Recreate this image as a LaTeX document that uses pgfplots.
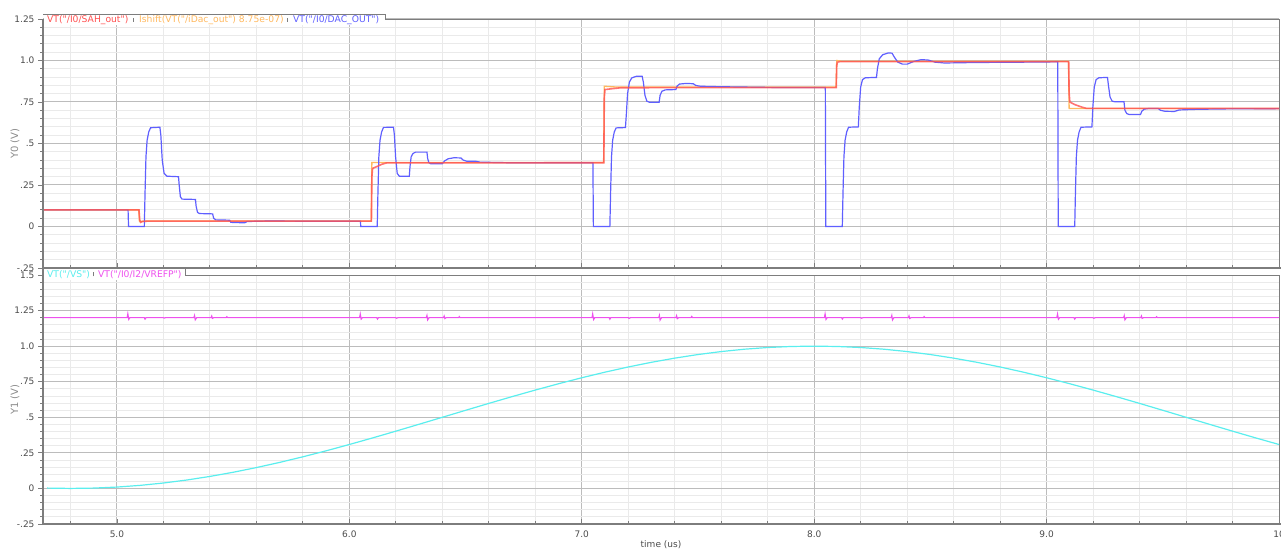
\documentclass[border=0pt]{standalone}
\usepackage{pgfplots}
\pgfplotsset{compat=1.18}
\usepackage{fontspec}
\setmainfont{DejaVu Sans}
\newcommand{\dq}{\XeTeXglyph\XeTeXcharglyph"22\relax}
\definecolor{cRed}{RGB}{255,80,80}
\definecolor{cOrange}{RGB}{255,185,95}
\definecolor{cBlue}{RGB}{95,95,255}
\definecolor{cCyan}{RGB}{90,238,238}
\definecolor{cMag}{RGB}{238,80,238}
\definecolor{gMajor}{RGB}{188,188,188}
\definecolor{gMinor}{RGB}{234,234,234}
\definecolor{axGray}{RGB}{125,125,125}
\definecolor{txtGray}{RGB}{75,75,75}
\definecolor{lblGray}{RGB}{140,140,140}
\pgfplotsset{
  wave/.style={
    scale only axis, width=1236pt, height=249pt,
    xmin=4.682, xmax=10.0,
    xtick={5,6,7,8,9,10},
    minor xtick={4.8,5.2,5.4,5.6,5.8,6.2,6.4,6.6,6.8,7.2,7.4,7.6,7.8,8.2,8.4,8.6,8.8,9.2,9.4,9.6,9.8},
    grid=both,
    major grid style={gMajor, line width=1pt},
    minor grid style={gMinor, line width=0.8pt},
    axis line style={axGray, line width=0.8pt},
    tick style={axGray, line width=0.8pt},
    major tick length=5pt, minor tick length=3pt,
    ytick align=outside, xtick align=inside,
    tick pos=left,
    ticklabel style={font=\fontsize{9}{10}\selectfont, text=txtGray},
    label style={font=\fontsize{10}{11}\selectfont, text=lblGray},
    ylabel style={at={(axis description cs:-0.0227,0.5)}, anchor=center},
  }
}
\begin{document}
\begin{tikzpicture}
\useasboundingbox (0,0) rectangle (1281pt,549pt);
% ---------- top pane ----------
\begin{axis}[wave, at={(43pt,281pt)}, anchor=south west,
  ymin=-0.25, ymax=1.25,
  ytick={-0.25,0,0.25,0.5,0.75,1.0,1.25},
  yticklabels={-.25,0,.25,.5,.75,1.0,1.25},
  minor ytick={-0.2,-0.15,-0.1,-0.05,0.05,0.1,0.15,0.2,0.3,0.35,0.4,0.45,0.55,0.6,0.65,0.7,0.8,0.85,0.9,0.95,1.05,1.1,1.15,1.2},
  xticklabels={},
  ylabel={Y0 (V)}]
% Ishift(VT("/iDac_out") 8.75e-07)
\addplot[cOrange, line width=1.3pt] coordinates {
(4.682,0.1) (5.094,0.1) (5.097,0.03) (5.12,0.033) (6.094,0.033) (6.097,0.386)
(7.094,0.386) (7.097,0.845) (7.15,0.84) (8.094,0.84) (8.097,1.0) (8.12,0.995)
(9.094,0.995) (9.097,0.711) (10.0,0.711)};
% VT("/I0/DAC_OUT")
\addplot[cBlue, line width=1.2pt] coordinates {
(4.682,0.1) (5.048,0.1) (5.050,0.0) (5.118,0.0) (5.121,0.2) (5.125,0.42) (5.13,0.52)
(5.137,0.57) (5.145,0.595) (5.185,0.598) (5.189,0.55) (5.195,0.40) (5.203,0.32)
(5.215,0.303) (5.265,0.30) (5.268,0.25) (5.273,0.18) (5.28,0.165) (5.338,0.163)
(5.341,0.12) (5.347,0.085) (5.355,0.078) (5.412,0.076) (5.416,0.05) (5.425,0.04)
(5.485,0.038) (5.49,0.025) (5.55,0.022) (5.56,0.03) (5.65,0.033) (5.8,0.032) (6.048,0.032)
(6.049,0.0) (6.120,0.0) (6.123,0.2) (6.127,0.42) (6.132,0.52) (6.139,0.57) (6.147,0.597)
(6.19,0.598) (6.194,0.55) (6.199,0.42) (6.206,0.32) (6.215,0.303) (6.258,0.303)
(6.261,0.36) (6.266,0.42) (6.274,0.44) (6.285,0.448) (6.334,0.448) (6.337,0.41)
(6.342,0.385) (6.35,0.378) (6.40,0.378) (6.41,0.395) (6.425,0.408) (6.45,0.414)
(6.48,0.413) (6.49,0.40) (6.505,0.393) (6.545,0.393) (6.56,0.388) (6.62,0.386)
(6.7,0.384) (7.048,0.384)
(7.05,0.0) (7.121,0.0) (7.124,0.2) (7.128,0.42) (7.133,0.52) (7.14,0.57) (7.148,0.594)
(7.188,0.596) (7.192,0.68) (7.197,0.80) (7.205,0.87) (7.215,0.895) (7.235,0.905)
(7.26,0.905) (7.265,0.87) (7.272,0.79) (7.28,0.755) (7.29,0.749) (7.333,0.749)
(7.337,0.79) (7.345,0.815) (7.36,0.823) (7.405,0.825) (7.41,0.845) (7.42,0.858)
(7.45,0.862) (7.48,0.86) (7.49,0.85) (7.51,0.845) (7.6,0.842) (7.8,0.838) (8.048,0.837)
(8.05,0.0) (8.121,0.0) (8.124,0.2) (8.128,0.42) (8.133,0.52) (8.14,0.57) (8.148,0.598)
(8.19,0.600) (8.194,0.72) (8.2,0.84) (8.208,0.885) (8.22,0.896) (8.268,0.898)
(8.272,0.95) (8.28,1.01) (8.295,1.035) (8.32,1.046) (8.335,1.044) (8.345,1.02)
(8.36,0.99) (8.38,0.978) (8.40,0.978) (8.43,0.995) (8.46,1.005) (8.49,1.003)
(8.52,0.99) (8.56,0.985) (8.7,0.988) (8.9,0.99) (9.048,0.992)
(9.05,0.0) (9.121,0.0) (9.124,0.2) (9.128,0.42) (9.133,0.52) (9.14,0.57) (9.148,0.598)
(9.195,0.600) (9.199,0.72) (9.205,0.84) (9.213,0.885) (9.225,0.896) (9.262,0.898)
(9.266,0.85) (9.273,0.78) (9.282,0.755) (9.295,0.751) (9.333,0.751) (9.337,0.70)
(9.345,0.68) (9.355,0.675) (9.404,0.675) (9.41,0.695) (9.42,0.707) (9.44,0.711)
(9.48,0.711) (9.49,0.70) (9.51,0.694) (9.55,0.693) (9.57,0.702) (9.65,0.706)
(9.8,0.709) (10.0,0.71)};
% VT("/I0/SAH_out")
\addplot[cRed, line width=1.6pt, opacity=0.8] coordinates {
(4.682,0.1) (5.095,0.1) (5.098,0.04) (5.102,0.025) (5.11,0.03) (5.13,0.032)
(6.095,0.032) (6.097,0.30) (6.10,0.35) (6.12,0.362) (6.14,0.375) (6.16,0.383)
(7.095,0.384) (7.097,0.78) (7.10,0.825) (7.13,0.830) (7.17,0.836)
(8.095,0.837) (8.097,0.97) (8.10,0.99) (8.11,0.993)
(9.095,0.993) (9.097,0.80) (9.10,0.75) (9.12,0.735) (9.15,0.72) (9.17,0.712) (10.0,0.711)};
\end{axis}
% ---------- bottom pane ----------
\begin{axis}[wave, at={(43pt,25pt)}, anchor=south west,
  ymin=-0.25, ymax=1.5,
  ytick={-0.25,0,0.25,0.5,0.75,1.0,1.25,1.5},
  yticklabels={-.25,0,.25,.5,.75,1.0,1.25,1.5},
  minor ytick={-0.2,-0.15,-0.1,-0.05,0.05,0.1,0.15,0.2,0.3,0.35,0.4,0.45,0.55,0.6,0.65,0.7,0.8,0.85,0.9,0.95,1.05,1.1,1.15,1.2,1.3,1.35,1.4,1.45},
  xticklabels={5.0,6.0,7.0,8.0,9.0,10},
  xticklabel style={yshift=-3pt},
  xlabel={time (us)},
  xlabel style={at={(axis description cs:0.5,0)}, anchor=center, yshift=-21pt, text=txtGray, font=\fontsize{9}{10}\selectfont},
  ylabel={Y1 (V)}]
% VT("/VS")
\addplot[cCyan, line width=1.2pt] coordinates {
(4.7,0.0024) (4.8,0.0) (4.9,0.0024) (5.0,0.0096) (5.1,0.0215) (5.2,0.0381) (5.3,0.0590)
(5.4,0.0843) (5.5,0.1135) (5.6,0.1465) (5.7,0.1828) (5.8,0.2222) (5.9,0.2643) (6.0,0.3087)
(6.1,0.3549) (6.2,0.4025) (6.3,0.4510) (6.4,0.5) (6.5,0.5490) (6.6,0.5976) (6.7,0.6451)
(6.8,0.6913) (6.9,0.7357) (7.0,0.7778) (7.1,0.8172) (7.2,0.8536) (7.3,0.8865) (7.4,0.9157)
(7.5,0.9410) (7.6,0.9619) (7.7,0.9785) (7.8,0.9904) (7.9,0.9976) (8.0,1.0) (8.1,0.9976)
(8.2,0.9904) (8.3,0.9785) (8.4,0.9619) (8.5,0.9410) (8.6,0.9157) (8.7,0.8865) (8.8,0.8536)
(8.9,0.8172) (9.0,0.7778) (9.1,0.7357) (9.2,0.6913) (9.3,0.6451) (9.4,0.5976) (9.5,0.5490)
(9.6,0.5) (9.7,0.4510) (9.8,0.4025) (9.9,0.3549) (10.0,0.3087)};
% VT("/I0/I2/VREFP")
\addplot[cMag, line width=1.1pt] coordinates {
(4.682,1.2)
(5.044,1.2) (5.047,1.228) (5.051,1.188) (5.056,1.2) (5.118,1.2) (5.121,1.19) (5.125,1.2)
(5.2,1.2) (5.203,1.197) (5.21,1.2) (5.331,1.2) (5.334,1.215) (5.337,1.185) (5.343,1.2)
(5.405,1.2) (5.408,1.212) (5.411,1.195) (5.417,1.2) (5.47,1.2) (5.473,1.207) (5.477,1.2)
(6.044,1.2) (6.047,1.226) (6.051,1.19) (6.056,1.2) (6.118,1.2) (6.121,1.19) (6.125,1.2)
(6.2,1.2) (6.203,1.196) (6.21,1.2) (6.331,1.2) (6.334,1.216) (6.337,1.184) (6.343,1.2)
(6.405,1.2) (6.408,1.212) (6.411,1.194) (6.417,1.2) (6.47,1.2) (6.473,1.208) (6.477,1.2)
(7.044,1.2) (7.047,1.227) (7.051,1.187) (7.056,1.2) (7.118,1.2) (7.121,1.189) (7.125,1.2)
(7.2,1.2) (7.203,1.195) (7.21,1.2) (7.331,1.2) (7.334,1.217) (7.337,1.183) (7.343,1.2)
(7.405,1.2) (7.408,1.214) (7.411,1.193) (7.417,1.2) (7.47,1.2) (7.473,1.209) (7.477,1.2)
(8.044,1.2) (8.047,1.227) (8.051,1.188) (8.056,1.2) (8.118,1.2) (8.121,1.19) (8.125,1.2)
(8.2,1.2) (8.203,1.196) (8.21,1.2) (8.331,1.2) (8.334,1.216) (8.337,1.184) (8.343,1.2)
(8.405,1.2) (8.408,1.213) (8.411,1.194) (8.417,1.2) (8.47,1.2) (8.473,1.208) (8.477,1.2)
(9.044,1.2) (9.047,1.226) (9.051,1.189) (9.056,1.2) (9.118,1.2) (9.121,1.19) (9.125,1.2)
(9.2,1.2) (9.203,1.196) (9.21,1.2) (9.331,1.2) (9.334,1.215) (9.337,1.185) (9.343,1.2)
(9.405,1.2) (9.408,1.212) (9.411,1.195) (9.417,1.2) (9.47,1.2) (9.473,1.207) (9.477,1.2)
(10.0,1.2)};
\end{axis}
% ---------- frame accents ----------
\draw[axGray, line width=2pt] (43pt,24pt) -- (43pt,530pt);
\draw[axGray, line width=2pt] (43pt,281pt) -- (1281pt,281pt);
\draw[axGray, line width=2pt] (43pt,25pt) -- (1281pt,25pt);
% ---------- legend tab, top pane ----------
\fill[white] (44pt,523.5pt) rectangle (385pt,534.5pt);
\draw[axGray, line width=1pt] (43pt,534.5pt) -- (385pt,534.5pt) -- (385pt,530pt);
\begin{scope}[every node/.style={inner sep=0pt, anchor=base west, font=\fontsize{9.2}{10}\selectfont}]
\node[text=cRed] at (47pt,526.3pt) {VT(\dq/I0/SAH\_out\dq)};
\node[text=cOrange] at (139pt,526.3pt) {Ishift(VT(\dq/iDac\_out\dq) 8.75e-07)};
\node[text=cBlue] at (293pt,526.3pt) {VT(\dq/I0/DAC\_OUT\dq)};
\end{scope}
\draw[axGray, line width=1pt] (133.5pt,527pt) -- (133.5pt,531pt);
\draw[axGray, line width=1pt] (287.5pt,527pt) -- (287.5pt,531pt);
% ---------- legend tab, bottom pane ----------
\fill[white] (44pt,269pt) rectangle (185pt,280pt);
\draw[axGray, line width=1pt] (185pt,280pt) -- (185pt,274pt);
\begin{scope}[every node/.style={inner sep=0pt, anchor=base west, font=\fontsize{9.2}{10}\selectfont}]
\node[text=cCyan] at (47pt,271.8pt) {VT(\dq/VS\dq)};
\node[text=cMag] at (98pt,271.8pt) {VT(\dq/I0/I2/VREFP\dq)};
\end{scope}
\draw[axGray, line width=1pt] (93pt,272.5pt) -- (93pt,276.5pt);
\end{tikzpicture}
\end{document}
